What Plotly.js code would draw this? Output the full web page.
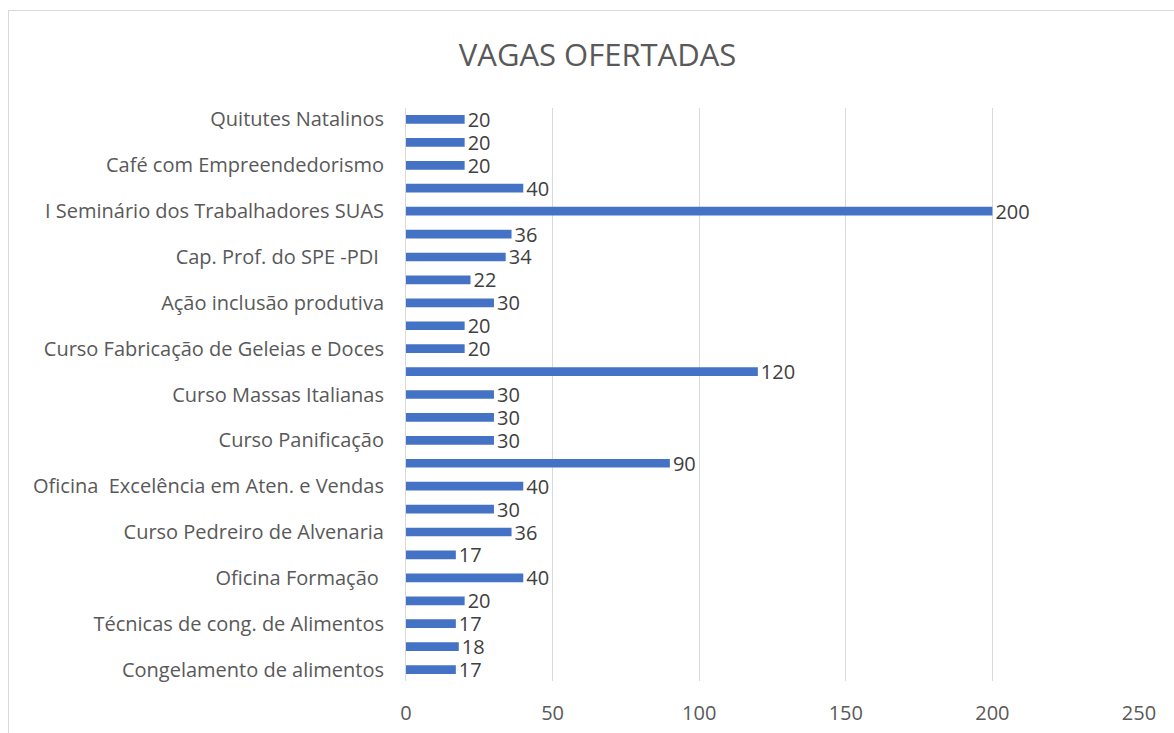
<!DOCTYPE html>
<html>
<head>
<meta charset="utf-8">
<script src="https://cdn.plot.ly/plotly-3.0.1.min.js"></script>
<style>
html,body{margin:0;padding:0;background:#fff;overflow:hidden;}
#frame{position:absolute;left:8px;top:10px;width:1300px;height:900px;border:1px solid #d9d9d9;box-sizing:border-box;}
#chart{position:absolute;left:0;top:0;width:1174px;height:733px;}
</style>
</head>
<body>
<div id="frame"></div>
<div id="chart"></div>
<script>
// bottom to top; only every other category label is shown in the original
const categories = [
  "Congelamento de alimentos", "",
  "Técnicas de cong. de Alimentos", "",
  "Oficina Formação ", "",
  "Curso Pedreiro de Alvenaria", "",
  "Oficina  Excelência em Aten. e Vendas", "",
  "Curso Panificação", "",
  "Curso Massas Italianas", "",
  "Curso Fabricação de Geleias e Doces", "",
  "Ação inclusão produtiva", "",
  "Cap. Prof. do SPE -PDI ", "",
  "I Seminário dos Trabalhadores SUAS", "",
  "Café com Empreendedorismo", "",
  "Quitutes Natalinos"
];
const vagas = [17, 18, 17, 20, 40, 17, 36, 30, 40, 90, 30, 30, 30, 120, 20, 20, 30, 22, 34, 36, 200, 40, 20, 20, 20];
const xTicks = [0, 50, 100, 150, 200, 250];
const chartTitle = "VAGAS OFERTADAS";

const positions = vagas.map((v, i) => i);
const tickIdx = categories.map((c, i) => i).filter(i => categories[i] !== "");

const font = "'Open Sans', 'Noto Sans', sans-serif";

Plotly.newPlot("chart", [{
  type: "bar",
  orientation: "h",
  x: vagas,
  y: positions,
  width: 0.38,
  marker: {color: "#4472C4"},
  text: vagas.map(String),
  textposition: "outside",
  constraintext: "none",
  textfont: {family: font, size: 20, color: "#404040"},
  cliponaxis: false,
  hoverinfo: "x"
}], {
  width: 1174, height: 733,
  margin: {l: 406, r: 35, t: 108, b: 52, pad: 0},
  paper_bgcolor: "rgba(0,0,0,0)",
  plot_bgcolor: "rgba(0,0,0,0)",
  title: {text: chartTitle, x: 0.509, xanchor: "center", y: 0.925, yanchor: "middle",
          xref: "container",
          font: {family: font, size: 31, color: "#595959"}},
  xaxis: {
    range: [0, 250], tickvals: xTicks, ticktext: xTicks.map(String),
    showgrid: true, gridcolor: "#d9d9d9", gridwidth: 1,
    zeroline: false, showline: false, ticks: "",
    ticklabelstandoff: 18,
    tickfont: {family: font, size: 20, color: "#595959"},
    fixedrange: true
  },
  yaxis: {
    range: [-0.5, 24.5], tickvals: tickIdx, ticktext: tickIdx.map(i => categories[i]),
    showgrid: false, zeroline: false, showline: true, linecolor: "#d9d9d9", linewidth: 1,
    ticks: "", ticklabelstandoff: 17,
    tickfont: {family: font, size: 20, color: "#595959"},
    fixedrange: true
  },
  showlegend: false,
  bargap: 0.6
}, {displayModeBar: false, staticPlot: true});
</script>
</body>
</html>
